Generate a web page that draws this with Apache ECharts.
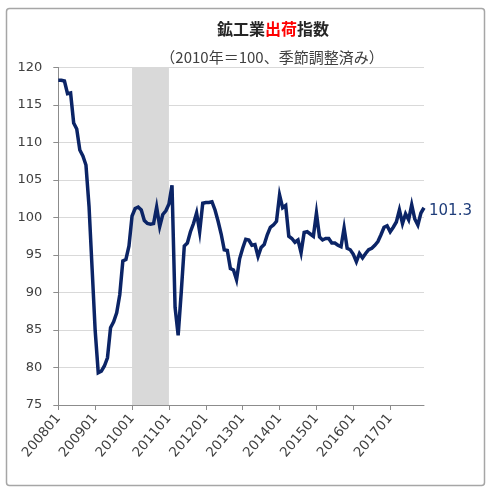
<!DOCTYPE html>
<html>
<head>
<meta charset="utf-8">
<script src="https://cdn.jsdelivr.net/npm/echarts@6/dist/echarts.min.js"></script>
<style>
html,body{margin:0;padding:0;background:#fff;}
#c{width:491px;height:492px;}
</style>
</head>
<body>
<div id="c"></div>
<script>
// ---- data ----
const years = [2008,2009,2010,2011,2012,2013,2014,2015,2016,2017];
const v2008 = [118.3,118.3,118.2,116.5,116.6,112.6,111.8,109.0,108.2,107.0,101.5,93.2];
const v2009 = [84.9,79.3,79.5,80.2,81.3,85.3,86.1,87.3,89.7,94.2,94.4,96.2];
const v2010 = [100.2,101.2,101.4,101.0,99.6,99.2,99.1,99.2,101.4,98.8,100.4,100.9];
const v2011 = [101.8,104.3,88.0,84.3,90.0,96.2,96.6,98.1,99.2,100.6,98.1,101.9];
const v2012 = [102.0,102.0,102.1,101.0,99.5,97.8,95.7,95.6,93.2,93.0,91.7,94.5];
const v2013 = [95.9,97.1,97.0,96.3,96.4,94.8,96.0,96.4,97.7,98.7,99.0,99.5];
const v2014 = [103.0,101.3,101.6,97.5,97.2,96.7,97.0,95.3,98.0,98.1,97.8,97.5];
const v2015 = [100.6,97.4,97.0,97.2,97.2,96.6,96.6,96.3,96.1,98.6,95.9,95.7];
const v2016 = [95.1,94.1,95.2,94.6,95.2,95.7,95.9,96.3,96.8,97.7,98.7,98.9];
const v2017 = [98.1,98.7,99.4,101.0,99.2,100.5,99.7,101.7,99.8,99.0,100.6,101.3];
const shadeFrom = '201001';
const shadeTo = '201101';
const yMin = 75, yMax = 120, yStep = 5;

const categories = [];
years.forEach(y => { for (let m = 1; m <= 12; m++) categories.push(String(y) + (m < 10 ? '0' : '') + m); });
const values = [].concat(v2008, v2009, v2010, v2011, v2012, v2013, v2014, v2015, v2016, v2017);

const chart = echarts.init(document.getElementById('c'), null, {renderer: 'canvas'});
chart.setOption({
  animation: false,
  backgroundColor: '#fff',
  graphic: [{
    type: 'rect', left: 4, top: 6,
    shape: {width: 478, height: 477, r: 3},
    style: {fill: 'none', stroke: '#a6a6a6', lineWidth: 1.5},
    silent: true
  }],
  title: [{
    text: '{a|鉱工業}{b|出荷}{a|指数}',
    left: 268, top: 16, textAlign: 'center',
    textStyle: {
      rich: {
        a: {fontFamily: 'Noto Sans CJK JP', fontSize: 16, fontWeight: 'bold', color: '#262626'},
        b: {fontFamily: 'Noto Sans CJK JP', fontSize: 16, fontWeight: 'bold', color: '#ff0000'}
      }
    }
  }, {
    text: '（2010年＝100、季節調整済み）',
    left: 267, top: 45, textAlign: 'center',
    textStyle: {fontFamily: 'Noto Sans CJK JP', fontSize: 15, fontWeight: 'normal', color: '#404040'}
  }],
  grid: {left: 58.3, right: 67, top: 67.5, bottom: 87, containLabel: false},
  xAxis: {
    type: 'category', data: categories, boundaryGap: false,
    axisLine: {lineStyle: {color: '#8c8c8c', width: 1}},
    axisTick: {show: true, interval: 11, length: 5, lineStyle: {color: '#8c8c8c'}},
    axisLabel: {interval: 11, rotate: 50, fontFamily: 'DejaVu Sans', fontSize: 13.5, color: '#404040', margin: 11},
    splitLine: {show: false}
  },
  yAxis: {
    type: 'value', min: yMin, max: yMax, interval: yStep,
    axisLine: {show: true, lineStyle: {color: '#8c8c8c', width: 1}},
    axisTick: {show: true, length: 5, lineStyle: {color: '#8c8c8c'}},
    axisLabel: {fontFamily: 'DejaVu Sans', fontSize: 13, color: '#404040', margin: 16},
    splitLine: {lineStyle: {color: '#d9d9d9', width: 1}}
  },
  series: [{
    type: 'line', data: values, showSymbol: false, symbol: 'none',
    lineStyle: {color: '#0b2466', width: 3.5, join: 'miter'},
    itemStyle: {color: '#0b2466'},
    endLabel: {
      show: true, formatter: p => p.value.toFixed(1), distance: 5, offset: [0, 3],
      fontFamily: 'DejaVu Sans', fontSize: 15, color: '#1f3d7a'
    },
    markArea: {
      silent: true,
      itemStyle: {color: '#d9d9d9'},
      data: [[{xAxis: shadeFrom}, {xAxis: shadeTo}]]
    },
    z: 3
  }]
});
</script>
</body>
</html>
